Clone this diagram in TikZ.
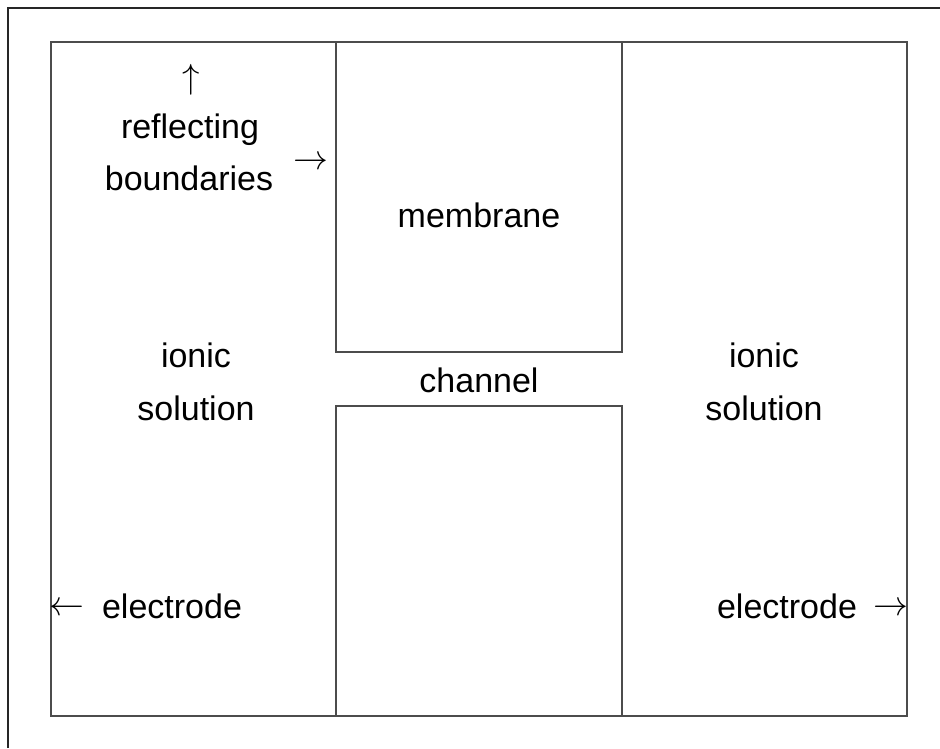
\documentclass[tikz,border=0pt]{standalone}
\usepackage{graphicx}
\usepackage{fontspec}
\setmainfont{Liberation Sans}
\newcommand{\arrowglyph}[1]{\scalebox{1.4}{$#1$}}
\begin{document}
\begin{tikzpicture}[x=1pt,y=-1pt,
  frame/.style={draw=black!85,line width=1.6pt},
  wall/.style={draw=black!70,line width=1.5pt},
  lbl/.style={inner sep=0pt,font=\fontsize{34}{40}\selectfont,align=center},
  glyph/.style={inner sep=0pt,font=\fontsize{24.88}{30}\selectfont}]
  \useasboundingbox (0,0) rectangle (940,748);
  % outer frame (top and left edges)
  \draw[frame] (8,748) -- (8,8) -- (940,8);
  % simulation cell
  \draw[wall] (51,42) rectangle (907,716);
  % membrane blocks leaving the channel between them
  \draw[wall] (336,42) rectangle (622,352);
  \draw[wall] (336,406) rectangle (622,716);
  % labels
  \node[glyph] (up) at (191,80) {\arrowglyph{\uparrow}};
  \node[lbl] (refl) at (190,130) {reflecting};
  \node[lbl] (bnd) at (189,178) {boundaries};
  \node[glyph] (rt) at (311,163) {\arrowglyph{\rightarrow}};
  \node[lbl] (mem) at (479,215) {membrane};
  \node[lbl] (chan) at (479,380) {channel};
  \node[lbl] (ionL) at (196,355) {ionic};
  \node[lbl] (solL) at (196,408) {solution};
  \node[lbl] (ionR) at (764,355) {ionic};
  \node[lbl] (solR) at (764,408) {solution};
  \node[glyph] (lt) at (67,609) {\arrowglyph{\leftarrow}};
  \node[lbl] (elL) at (172,606) {electrode};
  \node[lbl] (elR) at (787,606) {electrode};
  \node[glyph] (rtR) at (891,609) {\arrowglyph{\rightarrow}};
\end{tikzpicture}
\end{document}
